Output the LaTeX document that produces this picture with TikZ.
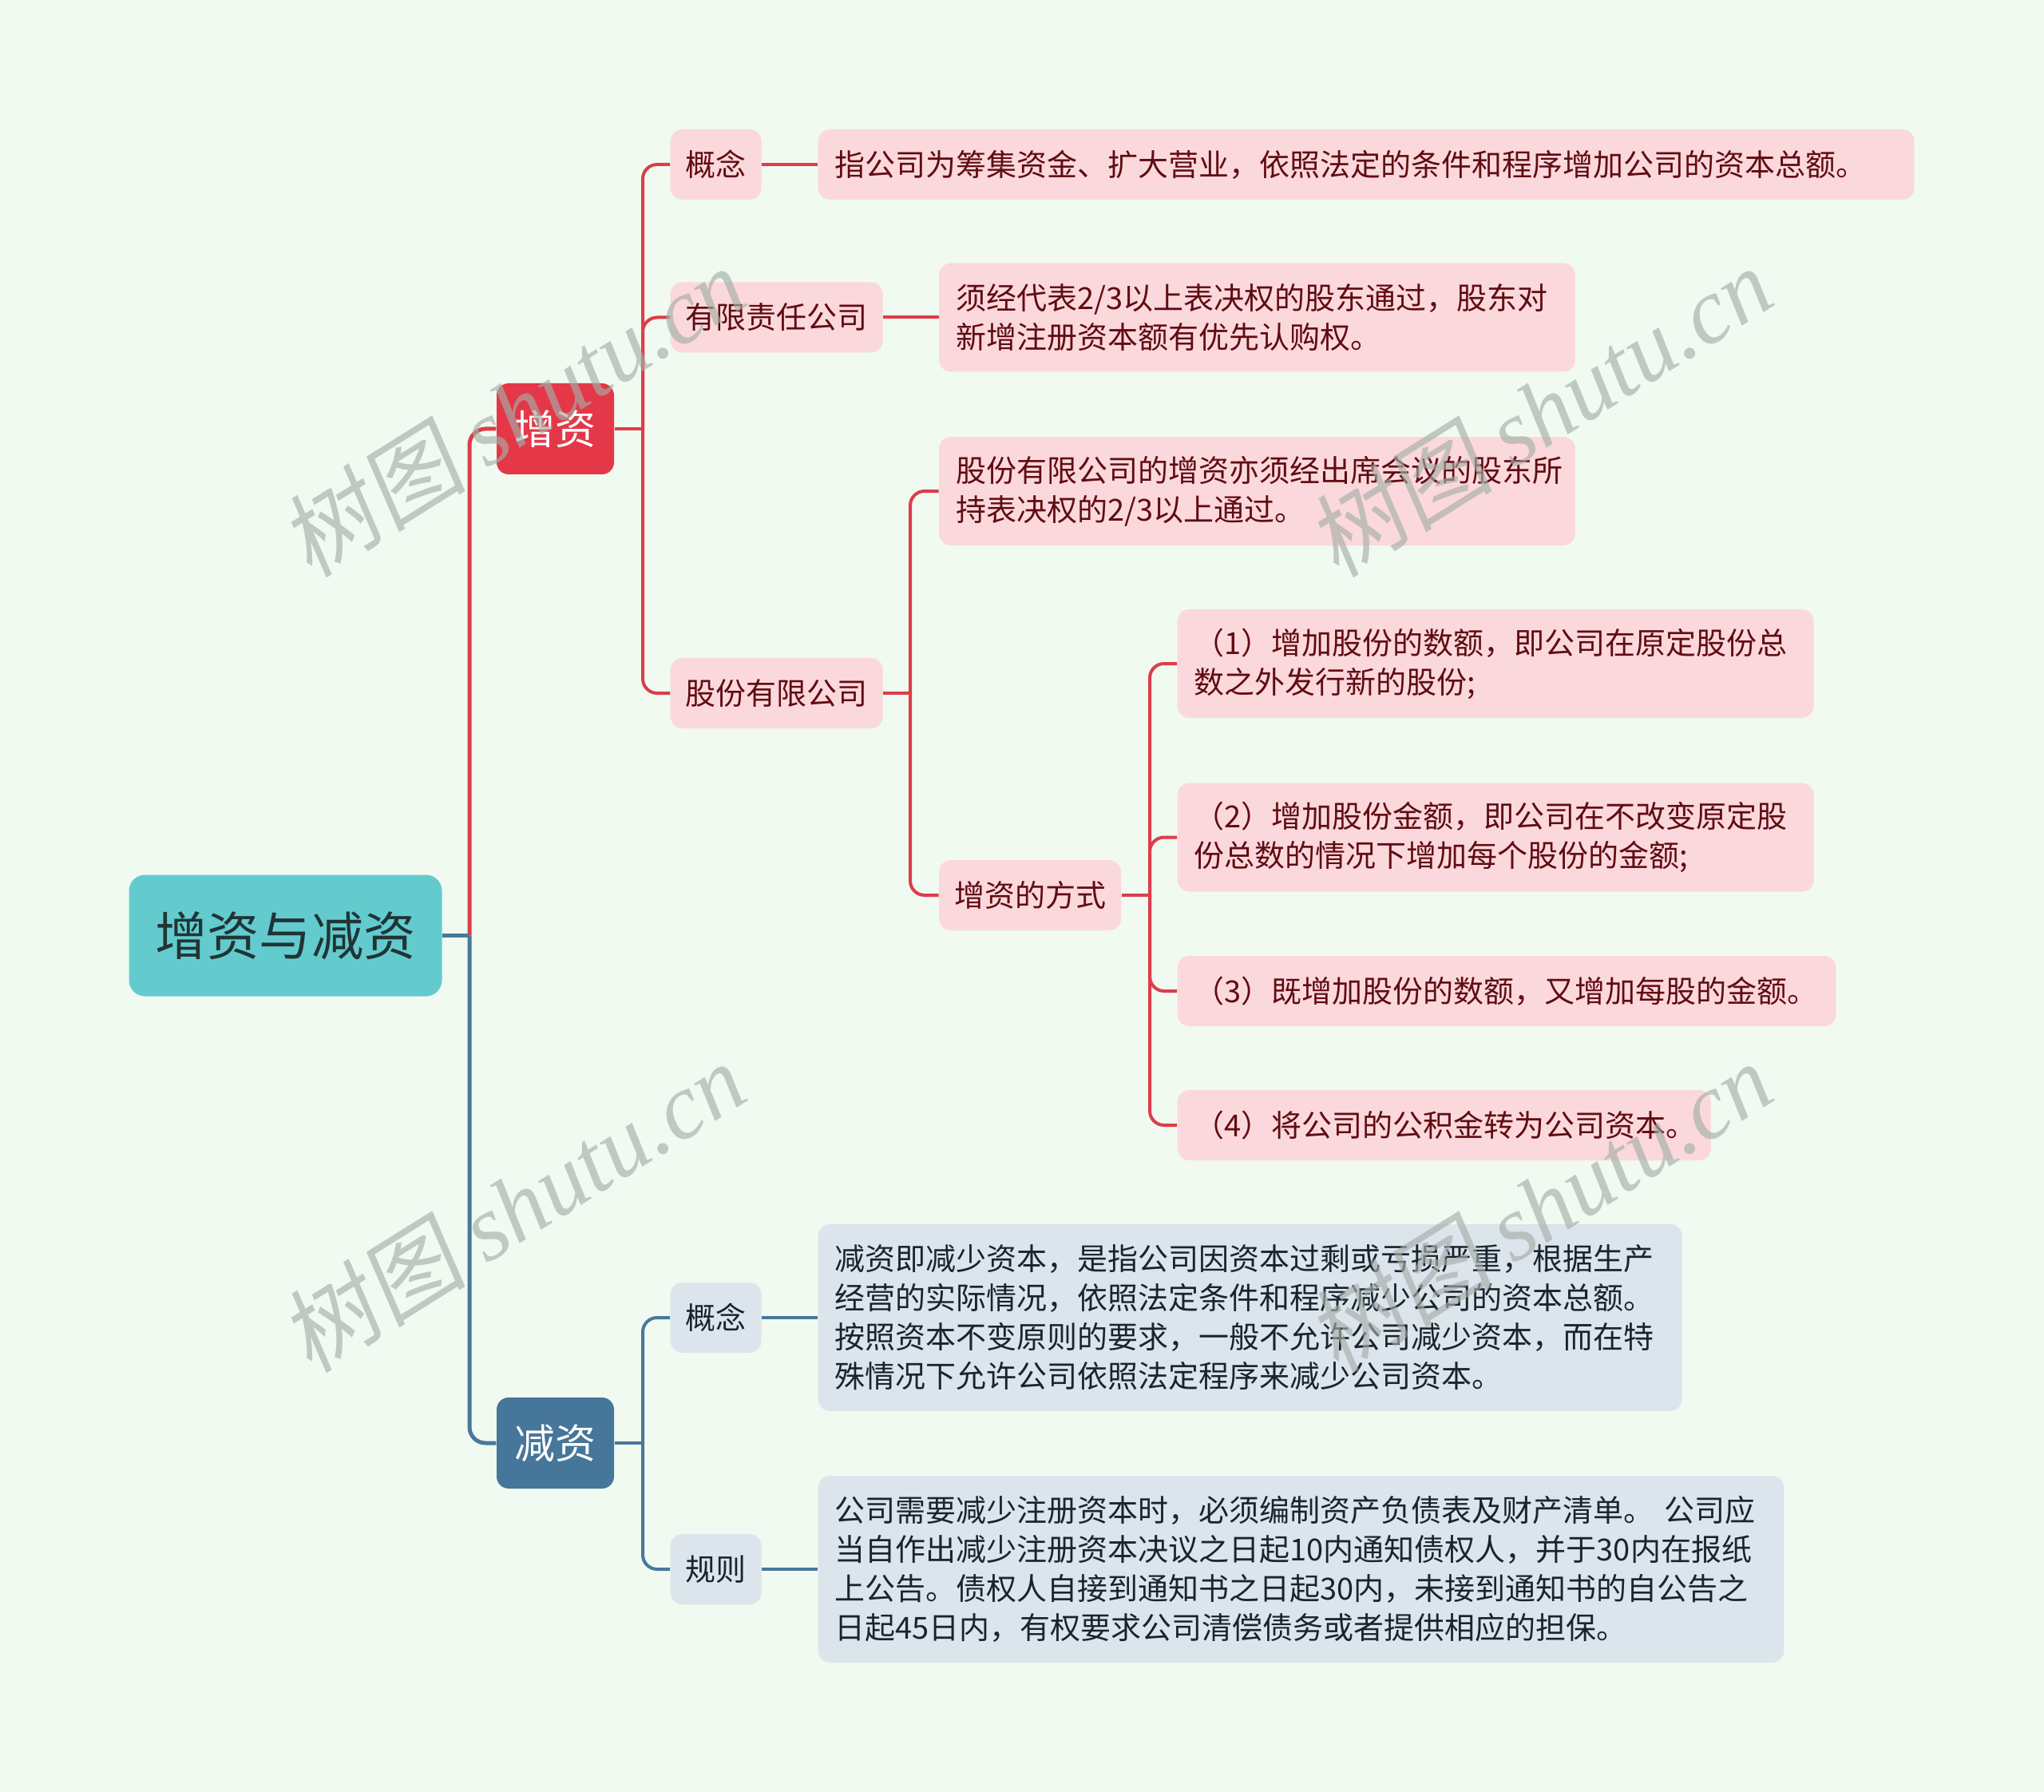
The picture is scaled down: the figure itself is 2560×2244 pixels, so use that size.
\documentclass[tikz,border=0pt]{standalone}
\usepackage{fontspec}
\setmainfont{Noto Sans CJK SC}
\newfontfamily\wmlat{Liberation Serif}
\newfontfamily\wmcjk[FakeSlant=0.15]{Noto Sans CJK SC}
\definecolor{bgcol}{RGB}{240,250,240}
\definecolor{rootcol}{RGB}{99,203,205}
\definecolor{roottext}{RGB}{32,52,54}
\definecolor{redcol}{RGB}{228,56,72}
\definecolor{bluecol}{RGB}{70,118,153}
\definecolor{redline}{RGB}{222,60,74}
\definecolor{blueline}{RGB}{72,120,155}
\definecolor{pinkfill}{RGB}{251,216,220}
\definecolor{pinktext}{RGB}{96,12,18}
\definecolor{grayfill}{RGB}{220,229,236}
\definecolor{bluetext}{RGB}{26,36,46}
\definecolor{wmcol}{RGB}{165,175,168}
\newcommand\mybody{\fontsize{11.4pt}{14.7pt}\selectfont}
\begin{document}
\begin{tikzpicture}[x=0.3pt,y=-0.3pt,
  rootbox/.style={fill=rootcol, rounded corners=6pt, minimum width=117.6pt, minimum height=45.6pt, inner sep=0pt, text=roottext, font=\fontsize{19.6pt}{24pt}\selectfont},
  mainred/.style={fill=redcol, text=white, rounded corners=4.5pt, minimum width=44.1pt, minimum height=34.2pt, inner sep=0pt, font=\fontsize{15.3pt}{18pt}\selectfont},
  mainblue/.style={mainred, fill=bluecol},
  lblred/.style={fill=pinkfill, text=pinktext, rounded corners=4.5pt, inner xsep=5.7pt, inner ysep=0pt, minimum height=26.4pt, anchor=west, font=\mybody},
  lblblue/.style={lblred, fill=grayfill, text=bluetext},
  leafred/.style={fill=pinkfill, text=pinktext, rounded corners=4.5pt, inner xsep=6.3pt, inner ysep=0pt, anchor=west, align=left, font=\mybody},
  leafblue/.style={leafred, fill=grayfill, text=bluetext},
  oneline/.style={minimum height=26.4pt},
  twoline/.style={minimum height=40.8pt},
  fourline/.style={minimum height=70.2pt},
  linkred/.style={draw=redline, line width=1.2pt, rounded corners=5.4pt},
  linkblue/.style={draw=blueline, line width=1.2pt, rounded corners=5.4pt},
  mainlinkred/.style={linkred, line width=1.5pt, rounded corners=6pt},
  mainlinkblue/.style={linkblue, line width=1.5pt, rounded corners=6pt},
  wm/.style={text=wmcol, text opacity=0.65, rotate=32, inner sep=0pt, font=\fontsize{35pt}{38pt}\selectfont}
]
\useasboundingbox (0,0) rectangle (2560,2244);
\fill[bgcol] (0,0) rectangle (2560,2244);

% nodes
\node[rootbox] (root) at (357.5,1171.5) {增资与减资};
\node[mainred] (zeng) at (695.5,537) {增资};
\node[mainblue] (jian) at (695.5,1807) {减资};

\node[lblred] (z1) at (839,206) {概念};
\node[lblred] (z2) at (839,397.5) {有限责任公司};
\node[lblred] (z3) at (839,868) {股份有限公司};
\node[lblred] (fs) at (1175.5,1121) {增资的方式};

\node[leafred, oneline, text width=399.3pt] (L1) at (1024,206) {指公司为筹集资金、扩大营业，依照法定的条件和程序增加公司的资本总额。};
\node[leafred, twoline, text width=226.4pt] (L2) at (1175.5,397.5) {须经代表2/3以上表决权的股东通过，股东对\\新增注册资本额有优先认购权。};
\node[leafred, twoline, text width=226.4pt] (L3) at (1175.5,615) {股份有限公司的增资亦须经出席会议的股东所\\持表决权的2/3以上通过。};
\node[leafred, twoline, text width=226.5pt] (f1) at (1474,831) {（1）增加股份的数额，即公司在原定股份总\\数之外发行新的股份;};
\node[leafred, twoline, text width=226.5pt] (f2) at (1474,1048.5) {（2）增加股份金额，即公司在不改变原定股\\份总数的情况下增加每个股份的金额;};
\node[leafred, oneline, text width=234.9pt] (f3) at (1474,1241) {（3）既增加股份的数额，又增加每股的金额。};
\node[leafred, oneline, text width=187.8pt] (f4) at (1474,1409) {（4）将公司的公积金转为公司资本。};

\node[lblblue] (j1) at (839,1650) {概念};
\node[lblblue] (j2) at (839,1965) {规则};
\node[leafblue, fourline, text width=312pt] (D1) at (1024,1650) {减资即减少资本，是指公司因资本过剩或亏损严重，根据生产\\经营的实际情况，依照法定条件和程序减少公司的资本总额。\\按照资本不变原则的要求，一般不允许公司减少资本，而在特\\殊情况下允许公司依照法定程序来减少公司资本。};
\node[leafblue, fourline, text width=350.3pt] (D2) at (1024,1965) {公司需要减少注册资本时，必须编制资产负债表及财产清单。~公司应\\当自作出减少注册资本决议之日起10内通知债权人，并于30内在报纸\\上公告。债权人自接到通知书之日起30内，未接到通知书的自公告之\\日起45日内，有权要求公司清偿债务或者提供相应的担保。};

% root connectors
\coordinate (rj) at (588,1171.5);
\draw[mainlinkred] (rj) |- (zeng.west);
\draw[mainlinkblue] (rj) |- (jian.west);
\draw[mainlinkblue] (root.east) -- (rj);

% zeng branch
\coordinate (zj) at (805,537);
\draw[linkred] (zeng.east) -- (zj);
\draw[linkred] (zj) |- (z1.west);
\draw[linkred] (zj) |- (z2.west);
\draw[linkred] (zj) |- (z3.west);
\draw[linkred] (z1.east) -- (L1.west);
\draw[linkred] (z2.east) -- (L2.west);

\coordinate (gj) at (1140,868);
\draw[linkred] (z3.east) -- (gj);
\draw[linkred] (gj) |- (L3.west);
\draw[linkred] (gj) |- (fs.west);

\coordinate (fj) at (1440,1121);
\draw[linkred] (fs.east) -- (fj);
\draw[linkred] (fj) |- (f1.west);
\draw[linkred] (fj) |- (f2.west);
\draw[linkred] (fj) |- (f3.west);
\draw[linkred] (fj) |- (f4.west);

% jian branch
\coordinate (jj) at (805,1807);
\draw[linkblue] (jian.east) -- (jj);
\draw[linkblue] (jj) |- (j1.west);
\draw[linkblue] (jj) |- (j2.west);
\draw[linkblue] (j1.east) -- (D1.west);
\draw[linkblue] (j2.east) -- (D2.west);

% watermarks
\node[wm] (wm1) at (642,515) {{\wmcjk 树图} {\wmlat\itshape shutu.cn}};
\node[wm] (wm2) at (1928,515) {{\wmcjk 树图} {\wmlat\itshape shutu.cn}};
\node[wm] (wm3) at (642,1511) {{\wmcjk 树图} {\wmlat\itshape shutu.cn}};
\node[wm] (wm4) at (1928,1511) {{\wmcjk 树图} {\wmlat\itshape shutu.cn}};
\end{tikzpicture}
\end{document}
